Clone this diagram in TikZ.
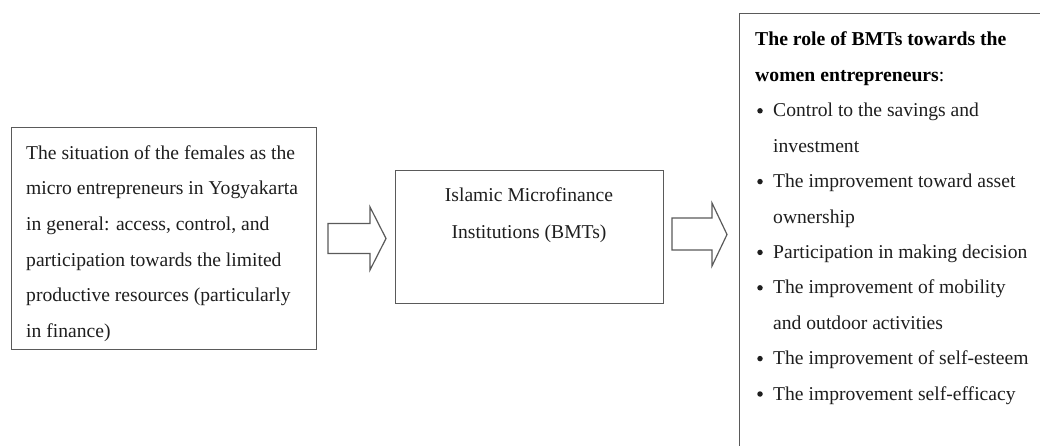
\documentclass[tikz,border=0pt]{standalone}
\usepackage{fontspec}
\setmainfont{Liberation Serif}
\definecolor{boxline}{HTML}{5A5A5A}
\definecolor{txt}{HTML}{1E1E1E}
\begin{document}
\begin{tikzpicture}[x=1pt,y=-1pt,
  boxstyle/.style={draw=boxline,line width=1.3pt},
  arrowstyle/.style={draw=boxline,line width=1.2pt,line join=miter,fill=white},
  linetext/.style={anchor=base west,inner sep=0pt,text=txt,font=\fontsize{19.6}{23}\selectfont},
  midtext/.style={anchor=base,inner sep=0pt,text=txt,font=\fontsize{19.6}{23}\selectfont},
  titletext/.style={anchor=base west,inner sep=0pt,text=black,font=\fontsize{19.7}{23}\selectfont\bfseries},
  dot/.style={circle,fill=txt,inner sep=0pt,minimum size=5.5pt}]
\useasboundingbox (0,0) rectangle (1040,446);
\clip (0,0) rectangle (1040,446);
\fill[white] (0,0) rectangle (1040,446);

% left box
\node[boxstyle,anchor=north west,minimum width=305pt,minimum height=222pt,inner sep=0pt] (left) at (11,127) {};
\foreach \t [count=\i] in {The situation of the females as the,
  micro entrepreneurs in Yogyakarta,
  {in general: access, control, and},
  participation towards the limited,
  productive resources (particularly,
  in finance)}
  \node[linetext] (l\i) at (26,{159.5+35.5*(\i-1)}) {\t};

% middle box
\node[boxstyle,anchor=north west,minimum width=268pt,minimum height=133pt,inner sep=0pt] (mid) at (395,170) {};
\node[midtext] (m1) at (529,202) {Islamic Microfinance};
\node[midtext] (m2) at (529,238) {Institutions (BMTs)};

% right box (runs off the page)
\node[boxstyle,anchor=north west,minimum width=320pt,minimum height=450pt,inner sep=0pt] (right) at (739,13) {};
\node[titletext] (t1) at (755,46) {The role of BMTs towards the};
\node[titletext] (t2) at (755,81.4) {women entrepreneurs\textmd{:}};
\foreach \t/\b [count=\i] in {Control to the savings and/1,
  investment/0,
  The improvement toward asset/1,
  ownership/0,
  Participation in making decision/1,
  The improvement of mobility/1,
  and outdoor activities/0,
  The improvement of self-esteem/1,
  The improvement self-efficacy/1}
  {
  \node[linetext] (r\i) at (773,{116.8+35.4*(\i-1)}) {\t};
  \ifnum\b=1 \node[dot] (d\i) at (760,{116.8+35.4*(\i-1)-6}) {};\fi
  }

% block arrows
\coordinate (a1) at (328,238.5);
\draw[arrowstyle] (a1) ++(0,-15) -- (370,223.5) -- (370,207) -- (386,238.5) -- (370,270) -- (370,253.5) -- (328,253.5) -- cycle;
\coordinate (a2) at (672,234);
\draw[arrowstyle] (a2) ++(0,-16) -- (712,218) -- (712,203) -- (727,234.5) -- (712,266) -- (712,250) -- (672,250) -- cycle;
\end{tikzpicture}
\end{document}
